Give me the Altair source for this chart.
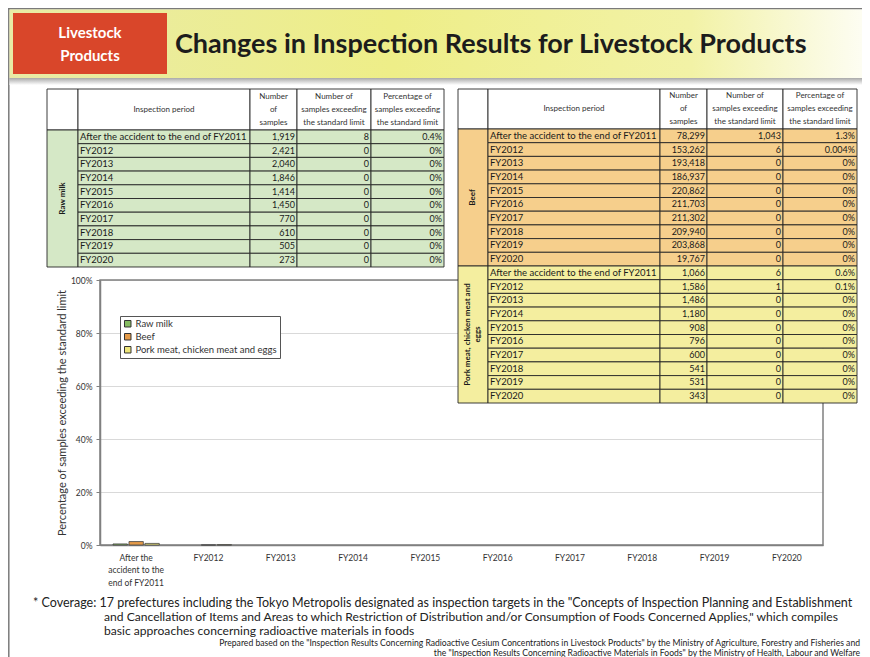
import altair as alt
import pandas as pd

# ---------------- data ----------------
periods = ["After the accident to the end of FY2011", "FY2012", "FY2013", "FY2014", "FY2015",
           "FY2016", "FY2017", "FY2018", "FY2019", "FY2020"]
products = ["Raw milk", "Beef", "Pork meat, chicken meat and eggs"]

raw_milk_samples = [1919, 2421, 2040, 1846, 1414, 1450, 770, 610, 505, 273]
raw_milk_exceeding = [8, 0, 0, 0, 0, 0, 0, 0, 0, 0]
raw_milk_pct = [0.4, 0, 0, 0, 0, 0, 0, 0, 0, 0]

beef_samples = [78299, 153262, 193418, 186937, 220862, 211703, 211302, 209940, 203868, 19767]
beef_exceeding = [1043, 6, 0, 0, 0, 0, 0, 0, 0, 0]
beef_pct = [1.3, 0.004, 0, 0, 0, 0, 0, 0, 0, 0]

pork_samples = [1066, 1586, 1486, 1180, 908, 796, 600, 541, 531, 343]
pork_exceeding = [6, 1, 0, 0, 0, 0, 0, 0, 0, 0]
pork_pct = [0.6, 0.1, 0, 0, 0, 0, 0, 0, 0, 0]

header_texts = ["", "Inspection period", "Number\nof\nsamples",
                "Number of\nsamples exceeding\nthe standard limit",
                "Percentage of\nsamples exceeding\nthe standard limit"]
group_labels = {"Raw milk": "Raw milk", "Beef": "Beef",
                "Pork meat, chicken meat and eggs": "Pork meat, chicken meat and\neggs"}
first_period_lines = ["After the", "accident to the", "end of FY2011"]

title_text = "Changes in Inspection Results for Livestock Products"
badge_text = "Livestock\nProducts"
y_title = "Percentage of samples exceeding the standard limit"
note_lines = [
    "* Coverage: 17 prefectures including the Tokyo Metropolis designated as inspection targets in the \"Concepts of Inspection Planning and Establishment",
    "and Cancellation of Items and Areas to which Restriction of Distribution and/or Consumption of Foods Concerned Applies,\" which compiles",
    "basic approaches concerning radioactive materials in foods",
]
source_lines = [
    "Prepared based on the \"Inspection Results Concerning Radioactive Cesium Concentrations in Livestock Products\" by the Ministry of Agriculture, Forestry and Fisheries and",
    "the \"Inspection Results Concerning Radioactive Materials in Foods\" by the Ministry of Health, Labour and Welfare",
]

# ---------------- layout / style ----------------
FONT = "Lato"
W, H = 854, 649
PAD_L, PAD_T = 92, 272
VW, VH = 723, 265
PAD_R = W - PAD_L - VW
PAD_B = H - PAD_T - VH
OX, OY = 8 + PAD_L, 8 + PAD_T


def px(x):
    return x - OX


def py(y):
    return y - OY


TABLE_LINE = "#262626"
one = pd.DataFrame({"k": [0]})


def label(text, x, y, **style):
    return alt.Chart(pd.DataFrame({"t": [text]})).mark_text(font=FONT, **style).encode(
        text="t:N", x=alt.value(px(x)), y=alt.value(py(y)))


def box(x0, x1, y0, y1, **style):
    return alt.Chart(one).mark_rect(**style).encode(
        x=alt.value(px(x0)), x2=alt.value(px(x1)), y=alt.value(py(y0)), y2=alt.value(py(y1)))


# ---------------- title banner ----------------
border_left = alt.Chart(one).mark_rule(color="#7a7a7a", strokeWidth=1.5).encode(
    x=alt.value(px(8.8)), y=alt.value(py(8)), y2=alt.value(py(660)))
border_top = alt.Chart(one).mark_rule(color="#7a7a7a", strokeWidth=1.5).encode(
    x=alt.value(px(8)), x2=alt.value(px(862)), y=alt.value(py(8.8)))

banner_grad = alt.LinearGradient(
    gradient="linear", x1=0, x2=1, y1=0, y2=0,
    stops=[alt.GradientStop(color="#e9eba6", offset=0),
           alt.GradientStop(color="#eeee88", offset=0.45),
           alt.GradientStop(color="#f2f2a6", offset=0.8),
           alt.GradientStop(color="#fdfdf2", offset=1)])
shadow_grad = alt.LinearGradient(
    gradient="linear", x1=0, x2=0, y1=0, y2=1,
    stops=[alt.GradientStop(color="#a9a9a9", offset=0),
           alt.GradientStop(color="#ffffff", offset=1)])

banner = box(9.5, 862, 9.5, 78, fill=banner_grad)
shadow = box(9.5, 862, 78, 85, fill=shadow_grad)
badge = box(13, 167, 13, 74, fill="#d9462a")
badge_label = label(badge_text, 90, 44, color="white", fontSize=15, fontWeight="bold",
                    align="center", baseline="middle", lineBreak="\n", lineHeight=23, dy=-11.5)
title = label(title_text, 175, 45, color="#1c1c1c", fontSize=27, fontWeight="bold",
              align="left", baseline="middle")

# ---------------- chart ----------------
frame = box(OX, OX + VW, OY, OY + VH, fillOpacity=0, stroke="#808080", strokeWidth=1.5)

bar_df = pd.DataFrame({
    "period": periods * 3,
    "product": [p for p in products for _ in periods],
    "pct": raw_milk_pct + beef_pct + pork_pct,
})
label_expr = ("datum.label == '" + periods[0] + "' ? ["
              + ", ".join("'" + s + "'" for s in first_period_lines) + "] : datum.label")

bars = alt.Chart(bar_df).transform_filter("datum.pct > 0").mark_bar(
    stroke="#454545", strokeWidth=0.8).encode(
    x=alt.X("period:N", sort=periods,
            scale=alt.Scale(domain=periods, paddingInner=0.36, paddingOuter=0.18),
            axis=alt.Axis(title=None, labelAngle=0, labelFont=FONT, labelFontSize=8.5,
                          labelColor="#333333", labelPadding=8, labelLineHeight=12.5,
                          labelExpr=label_expr, ticks=False, domainColor="#808080",
                          domainWidth=1.5, labelLimit=200)),
    xOffset=alt.XOffset("product:N", sort=products,
                        scale=alt.Scale(domain=products, paddingInner=0.1)),
    y=alt.Y("pct:Q", scale=alt.Scale(domain=[0, 100], nice=False),
            axis=alt.Axis(values=[0, 20, 40, 60, 80, 100], labelExpr="datum.value + '%'",
                          grid=True, gridColor="#d9d9d9", domainColor="#808080",
                          domainWidth=1.5, tickColor="#808080", tickSize=4,
                          labelFont=FONT, labelFontSize=8.5, labelColor="#333333",
                          labelPadding=4, title=y_title, titleFont=FONT,
                          titleFontSize=11, titleFontWeight="normal",
                          titleColor="#333333", titlePadding=3)),
    color=alt.Color("product:N", sort=products,
                    scale=alt.Scale(domain=products, range=["#86bd62", "#e49a48", "#eee67a"]),
                    legend=alt.Legend(title=None, orient="none", legendX=px(120), legendY=py(316),
                                      fillColor="white", strokeColor="#555555", padding=3,
                                      labelFont=FONT, labelFontSize=9.5, labelColor="#333333",
                                      symbolType="square", symbolSize=42,
                                      symbolStrokeColor="#333333", symbolStrokeWidth=1,
                                      rowPadding=2, labelOffset=3, labelLimit=300)),
)


# ---------------- tables ----------------
def table_chart(groups, x_edges, y_stops, fills):
    nper = len(periods)
    cells, texts = [], []
    for c, h in enumerate(header_texts):
        cells.append({"kind": "header", "x0": c, "x1": c + 1, "y0": 0, "y1": 1})
        if h:
            texts.append({"kind": "header", "tx": c + 0.5, "ty": 0.5, "label": h,
                          "lines": h.count("\n") + 1})
    for g, (name, samples, exceeding, pct) in enumerate(groups):
        top = 1 + g * nper
        cells.append({"kind": name, "x0": 0, "x1": 1, "y0": top, "y1": top + nper})
        gl = group_labels[name]
        texts.append({"kind": "group", "tx": 0.5, "ty": top + nper / 2, "label": gl,
                      "lines": gl.count("\n") + 1})
        for i, p in enumerate(periods):
            r = top + i
            for c in range(1, 5):
                cells.append({"kind": name, "x0": c, "x1": c + 1, "y0": r, "y1": r + 1})
            texts.append({"kind": "period", "tx": 1, "ty": r + 0.5, "label": p, "lines": 1})
            for c, v in ((3, f"{samples[i]:,}"), (4, f"{exceeding[i]:,}"), (5, f"{pct[i]:g}%")):
                texts.append({"kind": "number", "tx": c, "ty": r + 0.5, "label": v, "lines": 1})
    cdf = pd.DataFrame(cells)
    tdf = pd.DataFrame(texts)
    xs = alt.Scale(domain=list(range(6)), range=[px(v) for v in x_edges], nice=False, zero=False)
    ys = alt.Scale(domain=[0] + [1 + g * nper for g in range(len(groups) + 1)],
                   range=[py(v) for v in y_stops], nice=False, zero=False)
    layers = []
    for kind, fill in [("header", "#ffffff")] + fills:
        layers.append(alt.Chart(cdf).transform_filter(alt.datum.kind == kind).mark_rect(
            fill=fill, stroke=TABLE_LINE, strokeWidth=0.9).encode(
            x=alt.X("x0:Q", scale=xs, axis=None), x2="x1:Q",
            y=alt.Y("y0:Q", scale=ys, axis=None), y2="y1:Q"))

    def txt(kind, n=1, **kw):
        return alt.Chart(tdf).transform_filter(
            (alt.datum.kind == kind) & (alt.datum.lines == n)).mark_text(
            font=FONT, **kw).encode(
            x=alt.X("tx:Q", scale=xs, axis=None), y=alt.Y("ty:Q", scale=ys, axis=None),
            text="label:N")

    for n in sorted(tdf.loc[tdf.kind == "header", "lines"].unique()):
        layers.append(txt("header", int(n), align="center", baseline="middle", lineBreak="\n",
                          lineHeight=13, dy=-(int(n) - 1) * 13 / 2, fontSize=8,
                          color="#333333"))
    layers.append(txt("period", align="left", baseline="middle", dx=2, fontSize=9.5,
                      color="#1a1a1a"))
    layers.append(txt("number", align="right", baseline="middle", dx=-2, fontSize=9,
                      color="#1a1a1a"))
    for n in sorted(tdf.loc[tdf.kind == "group", "lines"].unique()):
        layers.append(txt("group", int(n), align="center", baseline="middle", angle=270,
                          lineBreak="\n", lineHeight=10, dy=-(int(n) - 1) * 10 / 2,
                          fontSize=8, fontWeight="bold", color="#1a1a1a"))
    return alt.layer(*layers)


left_table = table_chart(
    [("Raw milk", raw_milk_samples, raw_milk_exceeding, raw_milk_pct)],
    [47, 78, 250, 297, 371, 444], [89, 130, 267],
    [("Raw milk", "#d5e8c6")])
right_table = table_chart(
    [("Beef", beef_samples, beef_exceeding, beef_pct),
     ("Pork meat, chicken meat and eggs", pork_samples, pork_exceeding, pork_pct)],
    [458, 488, 660, 707, 783, 857], [89, 129, 266, 403],
    [("Beef", "#f6cf8c"), ("Pork meat, chicken meat and eggs", "#f4ee9f")])

# ---------------- footnotes ----------------
notes = [
    label(note_lines[0], 33, 603, fontSize=12.5, color="#222222", align="left", baseline="middle"),
    label(note_lines[1], 104, 617, fontSize=12.1, color="#222222", align="left", baseline="middle"),
    label(note_lines[2], 104, 631, fontSize=12.1, color="#222222", align="left", baseline="middle"),
    label(source_lines[0], 860, 643, fontSize=8.6, color="#222222", align="right", baseline="middle"),
    label(source_lines[1], 860, 652.5, fontSize=8.6, color="#222222", align="right", baseline="middle"),
]

chart = alt.layer(
    border_left, border_top, banner, shadow, badge, badge_label, title,
    frame, bars, left_table, right_table, *notes
).resolve_scale(x="independent", y="independent").properties(
    width=VW, height=VH,
    autosize=alt.AutoSizeParams(type="none"),
    padding={"left": PAD_L, "top": PAD_T, "right": PAD_R, "bottom": PAD_B},
    background="white",
).configure_view(strokeWidth=0)

chart.save("out.html", embed_options={"renderer": "svg", "actions": False})
